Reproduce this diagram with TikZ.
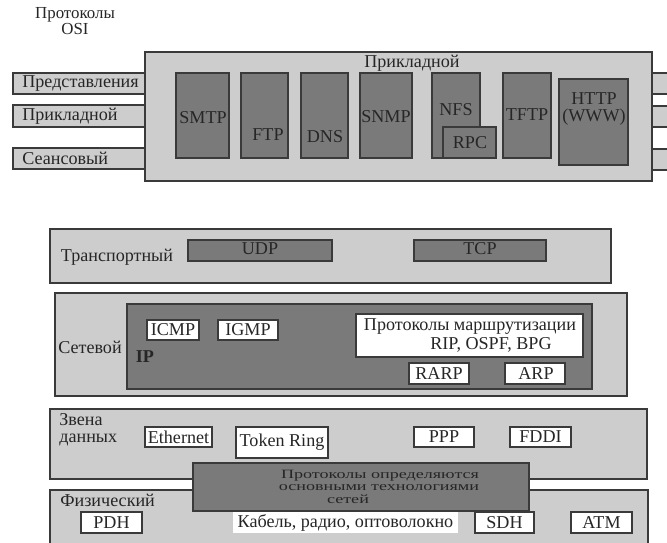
\documentclass[tikz,border=0pt]{standalone}
\usepackage{fontspec}
\setmainfont{Liberation Serif}
\definecolor{lightbg}{HTML}{CDCDCD}
\definecolor{darkbg}{HTML}{7A7A7A}
\definecolor{edge}{HTML}{3A3A3A}
\tikzset{
  layer/.style={draw=edge,fill=lightbg,line width=0.7pt},
  proto/.style={draw=edge,fill=darkbg,line width=0.7pt},
  tag/.style={draw=edge,fill=white,line width=0.6pt},
  txt/.style={inner sep=0pt,text=black!85}
}
\begin{document}
\begin{tikzpicture}[x=0.02cm,y=-0.02cm,font=\fontsize{10.3}{11}\selectfont]
\useasboundingbox[fill=white] (0,0) rectangle (667,542);

\node[txt,align=center,font=\fontsize{9.6}{9.6}\selectfont] (osi) at (75,21) {Протоколы\\OSI};

% application layers
\draw[layer] (13,73) rectangle (145,94);
\node[txt,anchor=west] (pres) at (22,83.5) {Представления};
\draw[layer] (13,105) rectangle (145,127);
\node[txt,anchor=west] (appl) at (22,116) {Прикладной};
\draw[layer] (13,148) rectangle (145,169);
\node[txt,anchor=west] (sess) at (22,158.5) {Сеансовый};
\fill[lightbg] (652,73) rectangle (667,94); % right tabs
\draw[edge,line width=0.7pt] (652,73) -- (667,73) (652,94) -- (667,94);
\fill[lightbg] (652,106) rectangle (667,127);
\draw[edge,line width=0.7pt] (652,106) -- (667,106) (652,127) -- (667,127);
\fill[lightbg] (652,149) rectangle (667,170);
\draw[edge,line width=0.7pt] (652,149) -- (667,149) (652,170) -- (667,170);
\draw[layer] (145,52) rectangle (652,181);
\node[txt] (apptitle) at (412,63) {Прикладной};

\draw[proto] (176,73) rectangle (229,158); % SMTP
\node[txt] (smtp) at (203,118) {SMTP};
\draw[proto] (241,73) rectangle (288,158); % FTP
\node[txt] (ftp) at (268,135) {FTP};
\draw[proto] (301,73) rectangle (348,158); % DNS
\node[txt] (dns) at (325,137) {DNS};
\draw[proto] (360,73) rectangle (412,158); % SNMP
\node[txt] (snmp) at (386,117) {SNMP};
\draw[proto] (432,73) rectangle (480,158); % NFS
\node[txt] (nfs) at (456,110) {NFS};
\draw[proto] (443,127) rectangle (496,158); % RPC
\node[txt] (rpc) at (470,143) {RPC};
\draw[proto] (503,73) rectangle (551,158); % TFTP
\node[txt] (tftp) at (527,115) {TFTP};
\draw[proto] (559,79) rectangle (628,165); % HTTP
\node[txt,align=center,font=\fontsize{10.3}{10.2}\selectfont] (http) at (594,109) {HTTP\\(WWW)};

% transport
\draw[layer] (50,229) rectangle (611,283);
\node[txt] (transp) at (117,257) {Транспортный};
\draw[proto] (188,240) rectangle (332,261);
\node[txt] (udp) at (260,249) {UDP};
\draw[proto] (414,240) rectangle (546,261);
\node[txt] (tcp) at (480,249) {TCP};

% network
\draw[layer] (55,293) rectangle (627,396);
\node[txt] (netw) at (90,347) {Сетевой};
\draw[proto] (127,304) rectangle (592,389);
\node[txt,font=\fontsize{10.3}{11}\selectfont\bfseries] (ip) at (145,357) {IP};
\draw[tag] (147,320) rectangle (199,340);
\node[txt] (icmp) at (173,330) {ICMP};
\draw[tag] (218,320) rectangle (278,340);
\node[txt] (igmp) at (248,330) {IGMP};
\draw[tag] (356,314) rectangle (583,357);
\node[txt] (route1) at (470,327) {Протоколы маршрутизации};
\node[txt] (route2) at (491,345) {RIP, OSPF, BPG};
\draw[tag] (409,363) rectangle (469,384);
\node[txt] (rarp) at (439,373.5) {RARP};
\draw[tag] (505,363) rectangle (565,384);
\node[txt] (arp) at (536,373.5) {ARP};

% data link
\draw[layer] (50,409) rectangle (647,479);
\node[txt,anchor=west,align=left,font=\fontsize{10.3}{9.6}\selectfont] (link) at (59,430) {Звена\\данных};
\draw[tag] (145,427) rectangle (212,447);
\node[txt] (eth) at (178.5,437) {Ethernet};
\draw[tag] (236,427) rectangle (328,458);
\node[txt] (token) at (282,442) {Token Ring};
\draw[tag] (414,427) rectangle (474,447);
\node[txt] (ppp) at (444,437) {PPP};
\draw[tag] (510,427) rectangle (571,447);
\node[txt] (fddi) at (540.5,437) {FDDI};

% physical
\draw[layer] (50,490) rectangle (648,548);
\node[txt,anchor=west] (phys) at (60,500) {Физический};
\draw[tag] (81,512) rectangle (142,533);
\node[txt] (pdh) at (111.5,522.5) {PDH};
\draw[tag] (475,512) rectangle (534,533);
\node[txt] (sdh) at (504.5,522.5) {SDH};
\draw[tag] (571,512) rectangle (632,533);
\node[txt] (atm) at (601.5,522.5) {ATM};

% technologies box over both layers
\draw[proto] (193,463) rectangle (529,511);
\node[txt] (tech1) at (380,476) {\scalebox{1}[0.7]{Протоколы определяются}};
\node[txt] (tech2) at (379,487.5) {\scalebox{1}[0.7]{основными технологиями}};
\node[txt] (tech3) at (348,499) {\scalebox{1}[0.7]{сетей}};
\fill[white] (233,512) rectangle (458,533);
\node[txt] (media) at (345.5,522.5) {Кабель, радио, оптоволокно};

\end{tikzpicture}
\end{document}
